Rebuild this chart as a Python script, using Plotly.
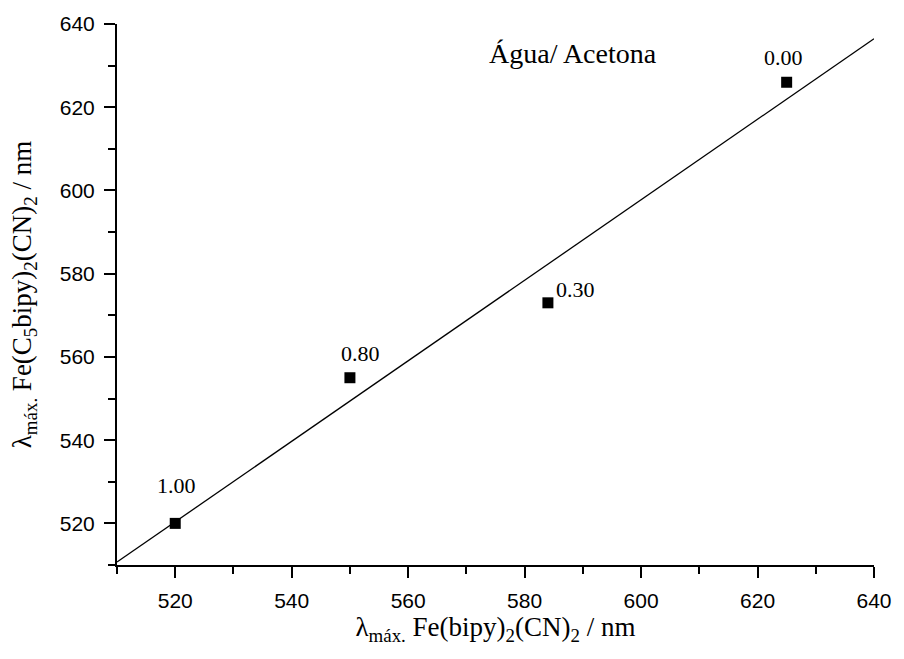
import numpy as np
import plotly.graph_objects as go

# Charge-transfer band maxima (nm) of the two complexes in water/acetone mixtures
lam_bipy = [520, 550, 584, 625]        # Fe(bipy)2(CN)2
lam_c5bipy = [520, 555, 573, 626]      # Fe(C5bipy)2(CN)2
fractions = ["1.00", "0.80", "0.30", "0.00"]

x_ticks = [520, 540, 560, 580, 600, 620, 640]
y_ticks = [520, 540, 560, 580, 600, 620, 640]
axis_range = [510, 640]

# least-squares line through the points, drawn across the full x range
slope, intercept = np.polyfit(lam_bipy, lam_c5bipy, 1)
fit_x = np.array(axis_range, dtype=float)
fit_y = slope * fit_x + intercept

serif = "Liberation Serif, Times New Roman, serif"
sans = "Liberation Sans, Arial, sans-serif"

fig = go.Figure()
fig.add_trace(go.Scatter(
    x=fit_x, y=fit_y, mode="lines",
    line=dict(color="black", width=1.3),
    hoverinfo="skip", showlegend=False,
))
fig.add_trace(go.Scatter(
    x=lam_bipy, y=lam_c5bipy, mode="markers",
    marker=dict(symbol="square", size=11, color="black"),
    showlegend=False,
))

# fraction labels next to each point
label_shifts = [(1, 38), (11, 24), (28, 13), (-3, 25)]
for xv, yv, txt, (dx, dy) in zip(lam_bipy, lam_c5bipy, fractions, label_shifts):
    fig.add_annotation(
        x=xv, y=yv, text=txt, showarrow=False,
        xshift=dx, yshift=dy,
        font=dict(family=serif, size=22, color="black"),
    )

fig.add_annotation(
    x=0.6026, y=0.946, xref="paper", yref="paper",
    xanchor="center", yanchor="middle",
    text="Água/ Acetona", showarrow=False,
    font=dict(family=serif, size=28, color="black"),
)

axis_common = dict(
    range=axis_range,
    showline=True, linecolor="black", linewidth=2,
    ticks="outside", ticklen=11, tickwidth=1.5, tickcolor="black",
    ticklabelstandoff=5,
    showgrid=False, zeroline=False, mirror=False,
    tickfont=dict(family=sans, size=21, color="black"),
    minor=dict(ticks="outside", ticklen=7, tickwidth=1.5, tickcolor="black",
               dtick=10, showgrid=False),
)

fig.update_xaxes(
    **axis_common,
    tickvals=x_ticks,
    title=dict(
        text="λ<sub>máx.</sub> Fe(bipy)<sub>2</sub>(CN)<sub>2</sub> / nm",
        font=dict(family=serif, size=27, color="black"),
        standoff=6,
    ),
)
fig.update_yaxes(
    **axis_common,
    tickvals=y_ticks,
    title=dict(
        text="λ<sub>máx.</sub> Fe(C<sub>5</sub>bipy)<sub>2</sub>(CN)<sub>2</sub> / nm",
        font=dict(family=serif, size=27, color="black"),
        standoff=20,
    ),
)

fig.update_layout(
    width=904, height=659,
    margin=dict(l=117, r=22, t=23, b=94),
    plot_bgcolor="white", paper_bgcolor="white",
)

fig.write_html("out.html")
